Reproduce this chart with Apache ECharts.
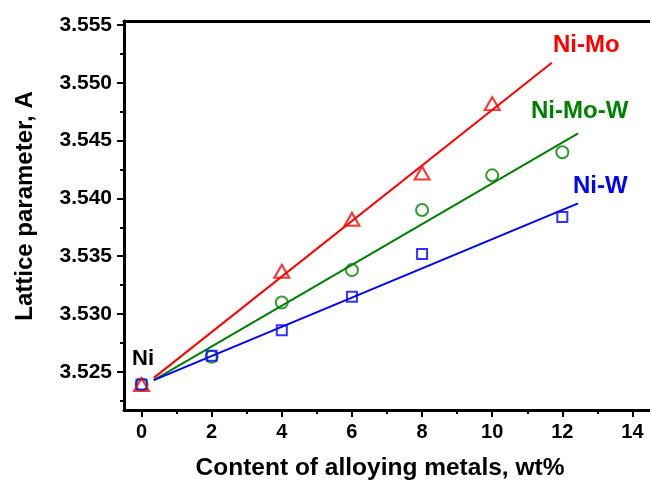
<!DOCTYPE html>
<html>
<head>
<meta charset="utf-8">
<script src="https://cdn.jsdelivr.net/npm/echarts@6/dist/echarts.min.js"></script>
<style>
  html, body { margin: 0; padding: 0; background: #fff; }
  #chart { width: 650px; height: 484px; }
</style>
</head>
<body>
<div id="chart"></div>
<script>
// Measured lattice parameters (A) vs. alloying content (wt%)
const niMoX = [0, 4, 6, 8, 10];
const niMoY = [3.5239, 3.5337, 3.5382, 3.5422, 3.5482];

const niMoWX = [0, 2, 4, 6, 8, 10, 12];
const niMoWY = [3.5239, 3.5263, 3.5310, 3.5338, 3.5390, 3.5420, 3.5440];

const niWX = [0, 2, 4, 6, 8, 12];
const niWY = [3.5239, 3.5264, 3.5286, 3.5315, 3.5352, 3.5384];

// Linear fit lines: [start, end] in x and y
const niMoFitX = [0.35, 11.7];
const niMoFitY = [3.52448, 3.55174];
const niMoWFitX = [0.35, 12.45];
const niMoWFitY = [3.52428, 3.54563];
const niWFitX = [0.35, 12.45];
const niWFitY = [3.52428, 3.53958];

// Axis ticks
const xMajor = [0, 2, 4, 6, 8, 10, 12, 14];
const xMinor = [1, 3, 5, 7, 9, 11, 13];
const yMajor = [3.525, 3.530, 3.535, 3.540, 3.545, 3.550, 3.555];
const yMinor = [3.5225, 3.5275, 3.5325, 3.5375, 3.5425, 3.5475, 3.5525];

const xTitle = 'Content of alloying metals, wt%';
const yTitle = 'Lattice parameter, A';

const RED = '#ff0000', GREEN = '#008000', BLUE = '#0000ff';
const FONT = '"Liberation Sans", Arial, sans-serif';

const zip = (xs, ys) => xs.map((x, i) => [x, ys[i]]);

const chart = echarts.init(document.getElementById('chart'), null, { renderer: 'canvas' });

const X_MIN = -0.5, X_MAX = 14.5;
const Y_MIN = 3.5217, Y_MAX = 3.55535;

const axisLine = { show: true, onZero: false, lineStyle: { color: '#000', width: 3 } };
const noLine = { show: false, onZero: false };

function fitSeries(name, xs, ys, color) {
  return {
    name, type: 'line', data: zip(xs, ys), symbol: 'none', silent: true,
    lineStyle: { color, width: 2 }, z: 2
  };
}
function pointSeries(name, xs, ys, color, symbol, size) {
  return {
    name, type: 'scatter', data: zip(xs, ys), symbol, symbolSize: size, silent: true,
    itemStyle: { color: 'rgba(255,255,255,0)', borderColor: color, borderWidth: 2 }, z: 3
  };
}

chart.setOption({
  animation: false,
  backgroundColor: '#fff',
  grid: { left: 124, top: 21, width: 528, height: 389, containLabel: false },
  xAxis: [
    {
      type: 'value', position: 'bottom', min: X_MIN, max: X_MAX,
      axisLine,
      splitLine: { show: false },
      axisTick: { show: true, customValues: xMajor, length: 7, lineStyle: { width: 2, color: '#000' } },
      axisLabel: { customValues: xMajor, margin: 12, color: '#000', fontFamily: FONT, fontWeight: 'bold', fontSize: 20 }
    },
    {
      type: 'value', position: 'bottom', min: X_MIN, max: X_MAX,
      axisLine: noLine, splitLine: { show: false }, axisLabel: { show: false },
      axisTick: { show: true, customValues: xMinor, length: 4, lineStyle: { width: 2, color: '#000' } }
    },
    {
      type: 'value', position: 'top', min: X_MIN, max: X_MAX,
      axisLine, splitLine: { show: false }, axisLabel: { show: false },
      axisTick: { show: true, customValues: xMajor.concat(xMinor), length: 1, lineStyle: { width: 1, color: '#000' } }
    }
  ],
  yAxis: [
    {
      type: 'value', position: 'left', min: Y_MIN, max: Y_MAX,
      axisLine,
      splitLine: { show: false },
      axisTick: { show: true, customValues: yMajor, length: 7, lineStyle: { width: 2, color: '#000' } },
      axisLabel: {
        customValues: yMajor, margin: 12, color: '#000', fontFamily: FONT, fontWeight: 'bold', fontSize: 21,
        formatter: v => v.toFixed(3)
      }
    },
    {
      type: 'value', position: 'left', min: Y_MIN, max: Y_MAX,
      axisLine: noLine, splitLine: { show: false }, axisLabel: { show: false },
      axisTick: { show: true, customValues: yMinor, length: 4, lineStyle: { width: 2, color: '#000' } }
    }
  ],
  series: [
    fitSeries('Ni-Mo-W fit', niMoWFitX, niMoWFitY, GREEN),
    fitSeries('Ni-W fit', niWFitX, niWFitY, BLUE),
    fitSeries('Ni-Mo fit', niMoFitX, niMoFitY, RED),
    pointSeries('Ni-Mo-W', niMoWX, niMoWY, GREEN, 'circle', 12),
    pointSeries('Ni-W', niWX, niWY, BLUE, 'rect', 10),
    pointSeries('Ni-Mo', niMoX, niMoY, RED, 'triangle', [15, 13])
  ],
  graphic: [
    // axis titles
    { type: 'text', x: 380, y: 468, style: { text: xTitle, fill: '#000', font: 'bold 24.5px ' + FONT, align: 'center', verticalAlign: 'middle' } },
    { type: 'text', x: 25, y: 206, rotation: Math.PI / 2, style: { text: yTitle, fill: '#000', font: 'bold 24px ' + FONT, align: 'center', verticalAlign: 'middle' } },
    // series labels
    { type: 'text', left: 553, top: 33, style: { text: 'Ni-Mo', fill: RED, font: 'bold 24px ' + FONT } },
    { type: 'text', left: 531, top: 99, style: { text: 'Ni-Mo-W', fill: GREEN, font: 'bold 24px ' + FONT } },
    { type: 'text', left: 573, top: 174, style: { text: 'Ni-W', fill: BLUE, font: 'bold 24px ' + FONT } },
    { type: 'text', left: 132, top: 348, style: { text: 'Ni', fill: '#000', font: 'bold 22px ' + FONT } }
  ]
});
</script>
</body>
</html>
